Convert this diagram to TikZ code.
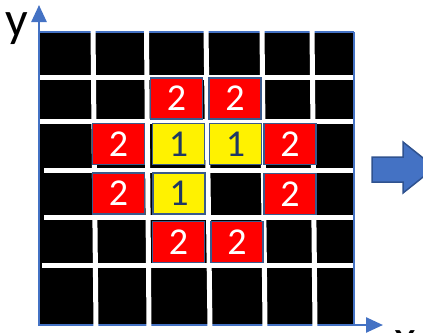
\documentclass[tikz,border=0pt]{standalone}
\usepackage{fontspec}
\setmainfont{Carlito}
\usetikzlibrary{arrows.meta}
\definecolor{axblue}{HTML}{4472C4}
\definecolor{cellborder}{HTML}{3A5A8C}
\definecolor{navy}{HTML}{1F3864}
\definecolor{arrowborder}{HTML}{2F528F}
\begin{document}
\begin{tikzpicture}[x=1pt,y=-1pt,
  cell/.style={draw=cellborder, line width=1.8pt, minimum width=52pt, minimum height=41pt, inner sep=0pt, font=\fontsize{38}{38}\selectfont},
  two/.style={cell, fill=red, text=white},
  one/.style={cell, fill=yellow, text=navy},
  gridline/.style={white, line width=5pt},
  axisline/.style={axblue, line width=2.5pt, -{Triangle[length=17pt,width=15pt]}},
  axlabel/.style={inner sep=0pt, font=\fontsize{50}{50}\selectfont},
]
\useasboundingbox (0,0) rectangle (423,332);
\clip (0,0) rectangle (423,332);
% black field
\fill[black] (38,32) rectangle (354,325);
\draw[axblue, line width=1.5pt] (38,32) -- (354,32);
\draw[axblue, line width=2pt] (354,32) -- (354,325);
% x axis
\coordinate (xo) at (38,325);
\coordinate (xe) at (383,325);
\draw[axisline] (xo) -- (xe);
% white grid lines
\draw[gridline] (93,30) -- (96,327);
\draw[gridline] (146.5,30) -- (149,327);
\draw[gridline] (206,30) -- (210,327);
\draw[gridline] (262,30) -- (265,327);
\draw[gridline] (312,30) -- (315,327);
\draw[gridline] (38,77) -- (353,77);
\draw[gridline] (38,121) -- (353,121);
\draw[gridline] (44,170) -- (353,170);
\draw[gridline] (44,217.5) -- (353,217.5);
\draw[gridline] (42,265.5) -- (353,265.5);
% y axis
\coordinate (yo) at (39,325);
\coordinate (ye) at (39,5);
\draw[axisline] (yo) -- (ye);
% cells
\node[two] (r2c3) at (176.5,98.5) {2};
\node[two] (r2c4) at (235,98.5) {2};
\node[two] (r3c2) at (118.5,144) {2};
\node[one] (r3c3) at (178.5,144) {1};
\node[one] (r3c4) at (235.5,144) {1};
\node[two] (r3c5) at (290,144) {2};
\node[two] (r4c2) at (118.5,193.5) {2};
\node[one] (r4c3) at (179,193.5) {1};
\node[two] (r4c5) at (290,194) {2};
\node[two] (r5c3) at (178.5,242) {2};
\node[two] (r5c4) at (237,242) {2};
% labels
\node[axlabel] (ylab) at (16.5,28.5) {y};
\node[axlabel, anchor=north] (xlab) at (405,330) {x};
% right arrow
\filldraw[fill=axblue, draw=arrowborder, line width=1.5pt]
  (372,157) -- (403,157) -- (403,142) -- (435,167.5) -- (403,193) -- (403,182) -- (372,182) -- cycle;
\end{tikzpicture}
\end{document}
